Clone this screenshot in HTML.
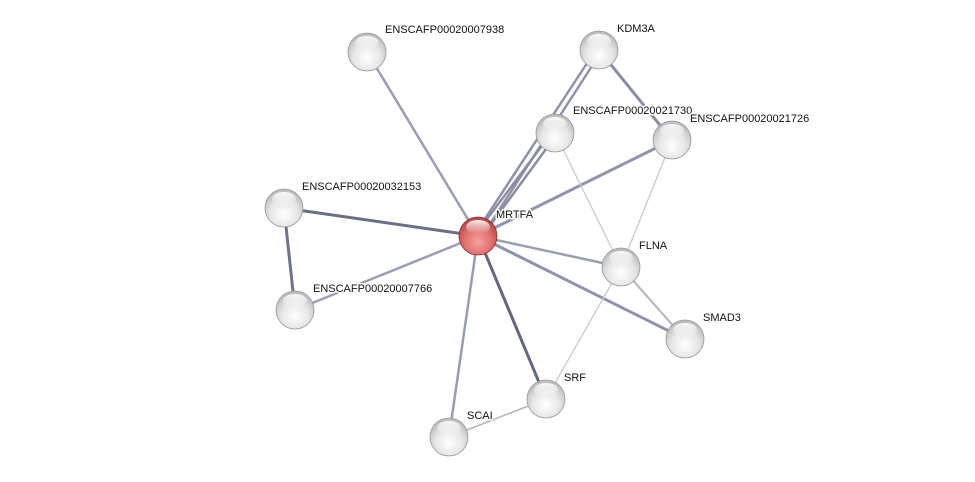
<!DOCTYPE html>
<html><head><style>body{margin:0;background:#fff}svg{display:block}</style></head><body>
<svg width="975" height="482" xmlns="http://www.w3.org/2000/svg" font-family="Liberation Sans, sans-serif" font-size="11">
<defs>
<radialGradient id="g" cx="50%" cy="65%" r="60%"><stop offset="0" stop-color="#ffffff"/><stop offset="0.6" stop-color="#e6e6e6"/><stop offset="1" stop-color="#bdbdbd"/></radialGradient>
<radialGradient id="r" cx="50%" cy="65%" r="60%"><stop offset="0" stop-color="#f7a0a0"/><stop offset="0.6" stop-color="#e07070"/><stop offset="1" stop-color="#b84848"/></radialGradient>
<linearGradient id="h" x1="0" y1="0" x2="0" y2="1"><stop offset="0" stop-color="#fff" stop-opacity="0.9"/><stop offset="1" stop-color="#fff" stop-opacity="0"/></linearGradient>
</defs>
<g stroke-linecap="round">
<line x1="478" y1="236" x2="367" y2="52" stroke="#9a9db0" stroke-width="2.5"/>
<line x1="475" y1="234" x2="597" y2="48" stroke="#8f92a6" stroke-width="2.5"/>
<line x1="481" y1="238" x2="601" y2="52" stroke="#8f92a6" stroke-width="2.5"/>
<line x1="475" y1="235" x2="553" y2="131" stroke="#8a8da2" stroke-width="2.5"/>
<line x1="481" y1="238" x2="557" y2="134" stroke="#8a8da2" stroke-width="2.5"/>
<line x1="478" y1="236" x2="672" y2="140" stroke="#9195aa" stroke-width="3"/>
<line x1="478" y1="236" x2="284" y2="208" stroke="#6b6e85" stroke-width="3"/>
<line x1="478" y1="236" x2="295" y2="310" stroke="#9a9db0" stroke-width="2.5"/>
<line x1="478" y1="236" x2="621" y2="267" stroke="#9a9db0" stroke-width="2.5"/>
<line x1="478" y1="236" x2="685" y2="339" stroke="#8f92a6" stroke-width="3"/>
<line x1="478" y1="236" x2="546" y2="399" stroke="#63667d" stroke-width="3"/>
<line x1="478" y1="236" x2="449" y2="437" stroke="#9a9db0" stroke-width="2.5"/>
<line x1="284" y1="208" x2="295" y2="310" stroke="#6f7289" stroke-width="3"/>
<line x1="599" y1="50" x2="672" y2="140" stroke="#8a8da2" stroke-width="3"/>
<line x1="555" y1="133" x2="621" y2="267" stroke="#c6c8d2" stroke-width="1.3"/>
<line x1="672" y1="140" x2="621" y2="267" stroke="#c6c8d2" stroke-width="1.3"/>
<line x1="621" y1="267" x2="685" y2="339" stroke="#b0b2c0" stroke-width="2"/>
<line x1="621" y1="267" x2="546" y2="399" stroke="#c6c8d2" stroke-width="1.3"/>
<line x1="546" y1="399" x2="449" y2="437" stroke="#b0b2c0" stroke-width="1.5"/>
</g>
<g>
<g transform="translate(367,52)"><circle r="19" fill="url(#g)" stroke="#999" stroke-width="0.8"/><ellipse cy="-9" rx="12" ry="7" fill="url(#h)"/></g>
<g transform="translate(599,50)"><circle r="19" fill="url(#g)" stroke="#999" stroke-width="0.8"/><ellipse cy="-9" rx="12" ry="7" fill="url(#h)"/></g>
<g transform="translate(555,133)"><circle r="19" fill="url(#g)" stroke="#999" stroke-width="0.8"/><ellipse cy="-9" rx="12" ry="7" fill="url(#h)"/></g>
<g transform="translate(672,140)"><circle r="19" fill="url(#g)" stroke="#999" stroke-width="0.8"/><ellipse cy="-9" rx="12" ry="7" fill="url(#h)"/></g>
<g transform="translate(284,208)"><circle r="19" fill="url(#g)" stroke="#999" stroke-width="0.8"/><ellipse cy="-9" rx="12" ry="7" fill="url(#h)"/></g>
<g transform="translate(478,236)"><circle r="19" fill="url(#r)" stroke="#8a3030" stroke-width="0.8"/><ellipse cy="-9" rx="12" ry="7" fill="url(#h)"/></g>
<g transform="translate(621,267)"><circle r="19" fill="url(#g)" stroke="#999" stroke-width="0.8"/><ellipse cy="-9" rx="12" ry="7" fill="url(#h)"/></g>
<g transform="translate(295,310)"><circle r="19" fill="url(#g)" stroke="#999" stroke-width="0.8"/><ellipse cy="-9" rx="12" ry="7" fill="url(#h)"/></g>
<g transform="translate(685,339)"><circle r="19" fill="url(#g)" stroke="#999" stroke-width="0.8"/><ellipse cy="-9" rx="12" ry="7" fill="url(#h)"/></g>
<g transform="translate(546,399)"><circle r="19" fill="url(#g)" stroke="#999" stroke-width="0.8"/><ellipse cy="-9" rx="12" ry="7" fill="url(#h)"/></g>
<g transform="translate(449,437)"><circle r="19" fill="url(#g)" stroke="#999" stroke-width="0.8"/><ellipse cy="-9" rx="12" ry="7" fill="url(#h)"/></g>
</g>
<g fill="#111" stroke="#fff" stroke-width="3" paint-order="stroke" stroke-linejoin="round">
<text x="385" y="33">ENSCAFP00020007938</text>
<text x="617" y="32">KDM3A</text>
<text x="573" y="114">ENSCAFP00020021730</text>
<text x="690" y="122">ENSCAFP00020021726</text>
<text x="302" y="190">ENSCAFP00020032153</text>
<text x="496" y="218">MRTFA</text>
<text x="639" y="249">FLNA</text>
<text x="313" y="292">ENSCAFP00020007766</text>
<text x="703" y="321">SMAD3</text>
<text x="564" y="381">SRF</text>
<text x="467" y="419">SCAI</text>
</g>
</svg>
</body></html>
